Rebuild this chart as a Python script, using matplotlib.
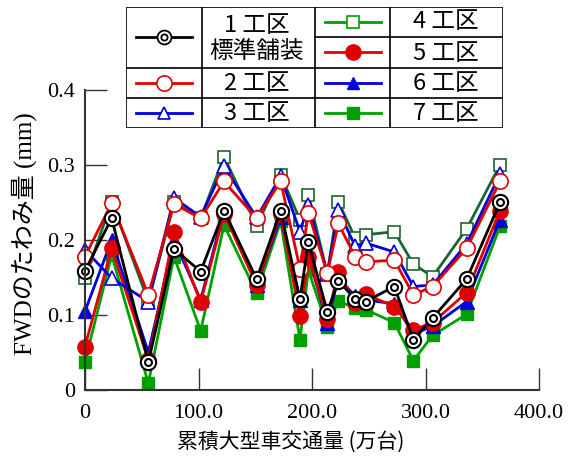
import matplotlib
matplotlib.use('Agg')
import matplotlib.pyplot as plt

plt.rcParams['font.family'] = ['Liberation Serif', 'Noto Sans CJK JP']

# cumulative heavy vehicle traffic (10k vehicles)
traffic = [0, 23.5, 55.8, 78.4, 101.9, 122.5, 151.2, 172.4, 189.4, 196.8,
           213.5, 223.2, 237.9, 247.3, 272.5, 289.3, 306.3, 336.3, 365.6]

# FWD deflection (mm) per section
sec1 = [0.159, 0.229, 0.037, 0.188, 0.158, 0.239, 0.148, 0.239, 0.121, 0.197,
        0.104, 0.145, 0.122, 0.118, 0.138, 0.067, 0.096, 0.148, 0.250]
sec2 = [0.178, 0.249, 0.127, 0.248, 0.229, 0.278, 0.229, 0.278, 0.162, 0.236,
        0.156, 0.222, 0.178, 0.171, 0.173, 0.127, 0.138, 0.189, 0.278]
sec3 = [0.187, 0.149, 0.118, 0.256, 0.231, 0.298, 0.230, 0.285, 0.211, 0.247,
        0.155, 0.240, 0.192, 0.196, 0.184, 0.138, 0.140, 0.195, 0.288]
sec4 = [0.149, 0.251, 0.118, 0.250, 0.229, 0.311, 0.219, 0.287, 0.227, 0.260,
        0.155, 0.251, 0.203, 0.207, 0.211, 0.168, 0.151, 0.215, 0.300]
sec5 = [0.058, 0.189, 0.040, 0.210, 0.117, 0.235, 0.140, 0.235, 0.099, 0.178,
        0.095, 0.158, 0.116, 0.128, 0.111, 0.080, 0.090, 0.130, 0.239]
sec6 = [0.105, 0.200, 0.050, 0.200, 0.120, 0.240, 0.140, 0.230, 0.120, 0.180,
        0.090, 0.150, 0.125, 0.120, 0.115, 0.075, 0.085, 0.118, 0.227]
sec7 = [0.038, 0.180, 0.009, 0.178, 0.079, 0.220, 0.129, 0.225, 0.067, 0.160,
        0.084, 0.119, 0.109, 0.107, 0.090, 0.039, 0.073, 0.101, 0.218]

RED = '#e00000'
BLUE = '#0000dd'
GREEN = '#00a000'
DGREEN = '#1a6630'

fig = plt.figure(figsize=(5.74, 4.63), dpi=100)
ax = fig.add_axes([85 / 574, 73 / 463, 454 / 574, 300 / 463])

lw = 2.0
ms = 10
ax.plot(traffic, sec7, color=GREEN, lw=lw, marker='s', ms=9, mfc=GREEN, mec=GREEN, clip_on=False)
ax.plot(traffic, sec6, color=BLUE, lw=lw, marker='^', ms=ms, mfc=BLUE, mec=BLUE, clip_on=False)
ax.plot(traffic, sec5, color=RED, lw=lw, marker='o', ms=ms + 1, mfc=RED, mec=RED, clip_on=False)
ax.plot(traffic, sec4, color=DGREEN, lw=lw, marker='s', ms=9, mfc='white', mec=DGREEN, mew=1.2, clip_on=False)
ax.plot(traffic, sec3, color=BLUE, lw=lw, marker='^', ms=ms, mfc='white', mec=BLUE, mew=1.2, clip_on=False)
ax.plot(traffic, sec2, color=RED, lw=lw, marker='o', ms=ms + 1, mfc='white', mec=RED, mew=1.2, clip_on=False)
ax.plot(traffic, sec1, color='black', lw=lw, marker='o', ms=ms + 1, mfc='white', mec='black', mew=1.5, clip_on=False)
ax.plot(traffic, sec1, ls='none', marker='o', ms=5, mfc='white', mec='black', mew=1.5, clip_on=False)

ax.set_xlim(0, 400)
ax.set_ylim(0, 0.4)
ax.set_xticks([0, 100, 200, 300, 400])
ax.set_xticklabels(['0', '100.0', '200.0', '300.0', '400.0'])
ax.set_yticks([0, 0.1, 0.2, 0.3, 0.4])
ax.set_yticklabels(['0', '0.1', '0.2', '0.3', '0.4'])
ax.tick_params(direction='in', length=16, width=1.0, labelsize=16, pad=7, colors='#333333',
               labelcolor='black')
ax.tick_params(axis='x', pad=10)
ax.spines['top'].set_visible(False)
ax.spines['right'].set_visible(False)
ax.spines['left'].set_linewidth(1.5)
ax.spines['bottom'].set_linewidth(1.5)
ax.spines['left'].set_color('#333333')
ax.spines['bottom'].set_color('#333333')

ax.set_xlabel('累積大型車交通量 (万台)', family=['Noto Sans CJK JP'], fontsize=15)
ax.xaxis.set_label_coords(0.452, -0.135)
ax.set_ylabel('FWDのたわみ量 (mm)', fontsize=18)
ax.yaxis.set_label_coords(-0.105, 0.52)

# legend table, drawn in pixel coordinates
lg = fig.add_axes([126 / 574, (463 - 128) / 463, (503 - 126) / 574, 121 / 463])
lg.set_xlim(126, 503)
lg.set_ylim(128, 7)
lg.axis('off')
lg.add_patch(plt.Rectangle((126, 7), 377, 121, facecolor='white', edgecolor='black', lw=1.2))
bk = dict(color='black', lw=1.2)
lg.plot([202, 202], [7, 128], **bk)
lg.plot([315, 315], [7, 128], **bk)
lg.plot([390, 390], [7, 128], **bk)
lg.plot([126, 315], [68, 68], **bk)
lg.plot([126, 315], [98, 98], **bk)
lg.plot([315, 503], [37, 37], **bk)
lg.plot([315, 503], [68, 68], **bk)
lg.plot([315, 503], [98, 98], **bk)

sym = dict(lw=2, clip_on=False)
lg.plot([136, 192], [37, 37], color='black', **sym)
lg.plot([164], [37], marker='o', ms=10, mfc='white', mec='black', mew=1.3)
lg.plot([164], [37], marker='o', ms=4.5, mfc='white', mec='black', mew=1.3)
lg.plot([136, 192], [83, 83], color=RED, **sym)
lg.plot([164], [83], marker='o', ms=11, mfc='white', mec=RED, mew=1.2)
lg.plot([136, 192], [113, 113], color=BLUE, **sym)
lg.plot([164], [113], marker='^', ms=9, mfc='white', mec=BLUE, mew=1.2)
lg.plot([325, 381], [22, 22], color=GREEN, **sym)
lg.plot([353], [22], marker='s', ms=8, mfc='white', mec=GREEN, mew=1.2)
lg.plot([325, 381], [52, 52], color=RED, **sym)
lg.plot([353], [52], marker='o', ms=11, mfc=RED, mec=RED)
lg.plot([325, 381], [83, 83], color=BLUE, **sym)
lg.plot([353], [83], marker='^', ms=9, mfc=BLUE, mec=BLUE)
lg.plot([325, 381], [113, 113], color=GREEN, **sym)
lg.plot([353], [113], marker='s', ms=8, mfc=GREEN, mec=GREEN)

tk = dict(family=['Noto Sans CJK JP'], fontsize=17, ha='center', va='center')
lg.text(257, 26, '1 工区', **tk)
lg.text(257, 51, '標準舗装', **tk)
lg.text(257, 84, '2 工区', **tk)
lg.text(257, 113, '3 工区', **tk)
lg.text(446, 22, '4 工区', **tk)
lg.text(446, 53, '5 工区', **tk)
lg.text(446, 84, '6 工区', **tk)
lg.text(446, 113, '7 工区', **tk)

fig.savefig('out.png', dpi=100)
